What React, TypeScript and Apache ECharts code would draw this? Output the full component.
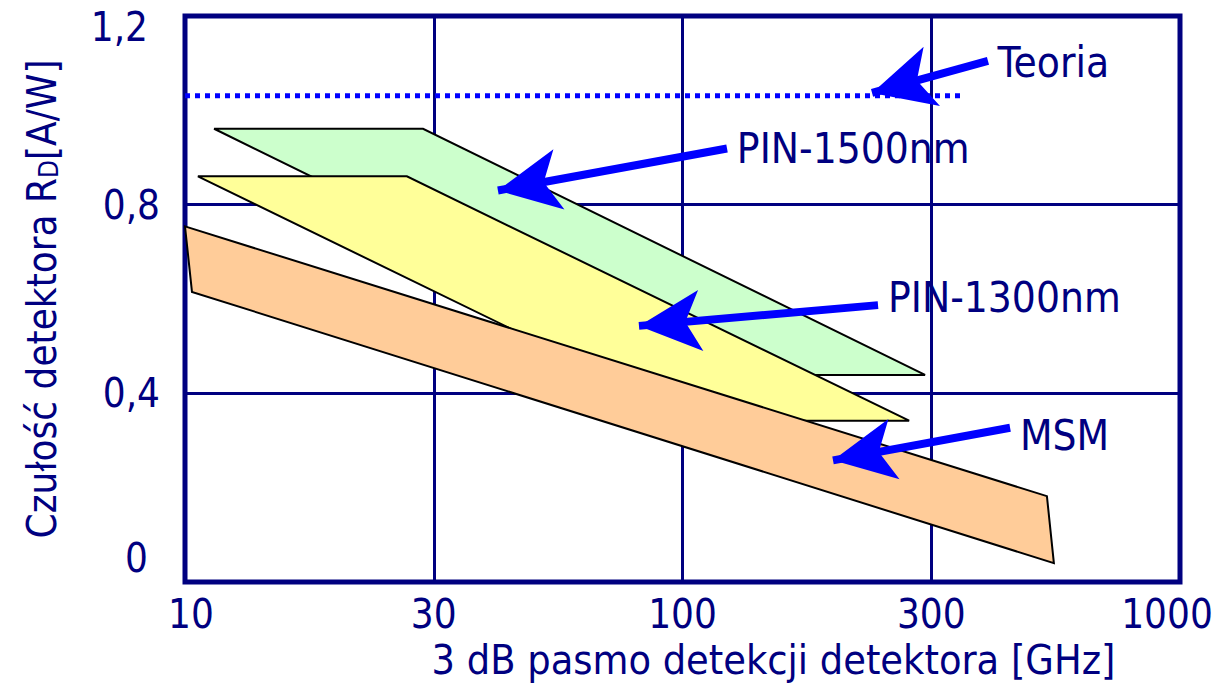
import React, { useEffect, useRef } from 'react';
import * as echarts from 'echarts';

// x axis: evenly spaced tick positions (index 0..4) labelled as in the source figure
const xTickLabels = ['10', '30', '100', '300', '1000'];

// PIN-1500nm band (vertices, x in tick-index units, y in A/W)
const pin1500X = [0.117, 0.957, 2.975, 2.135];
const pin1500Y = [0.961, 0.961, 0.439, 0.439];
// PIN-1300nm band
const pin1300X = [0.052, 0.892, 2.911, 2.07];
const pin1300Y = [0.86, 0.86, 0.342, 0.342];
// MSM band
const msmX = [0, 3.465, 3.493, 0.028];
const msmY = [0.754, 0.182, 0.04, 0.615];

// theoretical limit (dotted)
const theoryX = [0, 3.128];
const theoryY = [1.031, 1.031];

// annotation arrows (from label end to arrow tip)
const arrowNames = ['Teoria', 'PIN-1500nm', 'PIN-1300nm', 'MSM'];
const arrowFromX = [3.228, 2.179, 2.786, 3.317];
const arrowFromY = [1.105, 0.919, 0.587, 0.327];
const arrowToX = [2.762, 1.258, 1.825, 2.605];
const arrowToY = [1.037, 0.83, 0.543, 0.258];

const NAVY = '#000080';
const BLUE = '#0000FF';
const FONT = "'DejaVu Sans Condensed', 'DejaVu Sans', sans-serif";
const labelRich = {
  a0: { color: NAVY, fontSize: 42, fontFamily: FONT, padding: [8, 0, 0, 0] },
  a1: { color: NAVY, fontSize: 42, fontFamily: FONT, padding: [4, 0, 0, 0] },
  a2: { color: NAVY, fontSize: 42, fontFamily: FONT, padding: [0, 0, 14, 0] },
  a3: { color: NAVY, fontSize: 42, fontFamily: FONT, padding: [20, 0, 0, 0] },
};

const zip = (xs: number[], ys: number[]) => xs.map((x, i) => [x, ys[i]]);

const polygonSeries = (name: string, xs: number[], ys: number[], fill: string) => ({
  type: 'custom',
  name,
  clip: false,
  silent: true,
  data: zip(xs, ys),
  renderItem: (params: any, api: any) => {
    if (params.dataIndex !== 0) return null;
    const points = xs.map((x, i) => api.coord([x, ys[i]]));
    return {
      type: 'polygon',
      shape: { points },
      style: { fill, stroke: '#000000', lineWidth: 2, lineJoin: 'miter' },
    };
  },
});

export default function App() {
  const ref = useRef<HTMLDivElement>(null);

  useEffect(() => {
    if (!ref.current) return;
    const chart = echarts.init(ref.current, null, { renderer: 'svg' });
    const option: any = {
      animation: false,
      backgroundColor: '#ffffff',
      grid: {
        left: 185,
        right: 38,
        top: 16,
        bottom: 101,
        show: true,
        borderColor: NAVY,
        borderWidth: 5,
        backgroundColor: 'transparent',
      },
      xAxis: {
        type: 'value',
        min: 0,
        max: 4,
        interval: 1,
        name: '3 dB pasmo detekcji detektora [GHz]',
        nameLocation: 'middle',
        nameGap: 57,
        nameTextStyle: {
          color: NAVY,
          fontSize: 41,
          fontFamily: FONT,
          padding: [0, 0, 0, 182],
        },
        axisLine: { show: false },
        axisTick: { show: false },
        splitLine: { show: true, lineStyle: { color: NAVY, width: 3 } },
        axisLabel: {
          color: NAVY,
          fontSize: 40,
          fontFamily: FONT,
          margin: 12,
          formatter: (v: number) => {
            const t = xTickLabels[Math.round(v)];
            if (v === 0) return '{first|' + t + '}';
            if (v === 4) return '{last|' + t + '}';
            return t;
          },
          rich: {
            first: { color: NAVY, fontSize: 40, fontFamily: FONT, padding: [0, 0, 0, 12] },
            last: { color: NAVY, fontSize: 40, fontFamily: FONT, padding: [0, 26, 0, 0] },
          },
        },
      },
      yAxis: {
        type: 'value',
        min: 0,
        max: 1.2,
        interval: 0.4,
        name: 'Czułość detektora R{sub|D}[A/W]',
        nameLocation: 'middle',
        nameRotate: 90,
        nameGap: 123,
        nameTextStyle: {
          color: NAVY,
          fontSize: 40,
          fontFamily: FONT,
          rich: {
            sub: { color: NAVY, fontSize: 26, fontFamily: FONT, verticalAlign: 'bottom', padding: [14, 0, 0, 0] },
          },
        },
        axisLine: { show: false },
        axisTick: { show: false },
        splitLine: { show: true, lineStyle: { color: NAVY, width: 3 } },
        axisLabel: {
          color: NAVY,
          fontSize: 40,
          fontFamily: FONT,
          margin: 25,
          formatter: (v: number) => {
            const t = String(Math.round(v * 10) / 10).replace('.', ',');
            if (v === 0) return '{low|' + t + '}';
            if (v > 1.1) return '{high|' + t + '}';
            return t;
          },
          rich: {
            low: { color: NAVY, fontSize: 40, fontFamily: FONT, padding: [0, 12, 48, 0] },
            high: { color: NAVY, fontSize: 40, fontFamily: FONT, padding: [22, 12, 0, 0] },
          },
        },
      },
      series: [
        polygonSeries('PIN-1500nm', pin1500X, pin1500Y, '#CCFFCC'),
        polygonSeries('PIN-1300nm', pin1300X, pin1300Y, '#FFFF99'),
        polygonSeries('MSM', msmX, msmY, '#FFCC99'),
        {
          type: 'line',
          name: 'Teoria',
          data: zip(theoryX, theoryY),
          symbol: 'none',
          silent: true,
          lineStyle: { color: BLUE, width: 5, type: [5, 5], cap: 'butt' },
          markLine: {
            silent: true,
            animation: false,
            symbol: ['none', 'arrow'],
            symbolSize: [46, 62],
            lineStyle: { color: BLUE, width: 8, type: 'solid', opacity: 1 },
            itemStyle: { color: BLUE },
            emphasis: { disabled: true },
            label: {
              show: true,
              position: 'start',
              distance: 10,
              formatter: (p: any) => '{a' + arrowNames.indexOf(p.name) + '|' + p.name + '}',
              color: NAVY,
              fontSize: 42,
              fontFamily: FONT,
              rich: labelRich,
            },
            data: arrowNames.map((n, i) => [
              { name: n, coord: [arrowFromX[i], arrowFromY[i]], symbol: 'none' },
              {
                coord: [arrowToX[i], arrowToY[i]],
                symbol: 'arrow',
                symbolSize: [46, 62],
                itemStyle: { color: BLUE },
              },
            ]),
          },
        },
      ],
    };
    chart.setOption(option);
    return () => chart.dispose();
  }, []);

  return (
    <div
      ref={ref}
      style={{ position: 'fixed', left: 0, top: 0, width: 1218, height: 685, background: '#fff' }}
    />
  );
}
